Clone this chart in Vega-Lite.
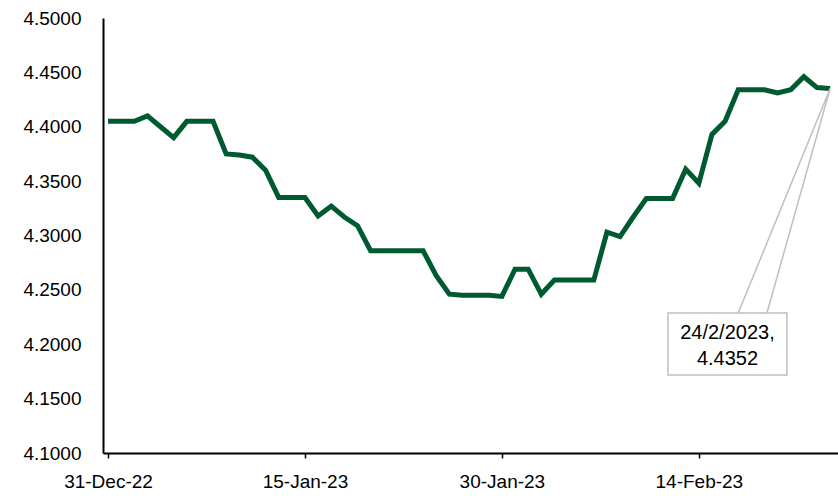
{
  "$schema": "https://vega.github.io/schema/vega-lite/v6.json",
  "width": 735,
  "height": 435,
  "autosize": {"type": "none"},
  "padding": {"left": 103, "top": 18, "right": 0, "bottom": 43},
  "background": "white",
  "config": {
    "view": {"stroke": null},
    "font": "Liberation Sans",
    "axis": {"grid": false, "domainColor": "black", "domainWidth": 2, "labelColor": "black", "labelFontSize": 19, "labelFont": "Liberation Sans", "title": null}
  },
  "datasets": {
    "series": [
      {"date": "2022/12/31", "rate": 4.405},
      {"date": "2023/01/01", "rate": 4.405},
      {"date": "2023/01/02", "rate": 4.405},
      {"date": "2023/01/03", "rate": 4.410},
      {"date": "2023/01/04", "rate": 4.400},
      {"date": "2023/01/05", "rate": 4.390},
      {"date": "2023/01/06", "rate": 4.405},
      {"date": "2023/01/07", "rate": 4.405},
      {"date": "2023/01/08", "rate": 4.405},
      {"date": "2023/01/09", "rate": 4.375},
      {"date": "2023/01/10", "rate": 4.374},
      {"date": "2023/01/11", "rate": 4.372},
      {"date": "2023/01/12", "rate": 4.360},
      {"date": "2023/01/13", "rate": 4.335},
      {"date": "2023/01/14", "rate": 4.335},
      {"date": "2023/01/15", "rate": 4.335},
      {"date": "2023/01/16", "rate": 4.318},
      {"date": "2023/01/17", "rate": 4.327},
      {"date": "2023/01/18", "rate": 4.317},
      {"date": "2023/01/19", "rate": 4.309},
      {"date": "2023/01/20", "rate": 4.286},
      {"date": "2023/01/21", "rate": 4.286},
      {"date": "2023/01/22", "rate": 4.286},
      {"date": "2023/01/23", "rate": 4.286},
      {"date": "2023/01/24", "rate": 4.286},
      {"date": "2023/01/25", "rate": 4.263},
      {"date": "2023/01/26", "rate": 4.246},
      {"date": "2023/01/27", "rate": 4.245},
      {"date": "2023/01/28", "rate": 4.245},
      {"date": "2023/01/29", "rate": 4.245},
      {"date": "2023/01/30", "rate": 4.244},
      {"date": "2023/01/31", "rate": 4.269},
      {"date": "2023/02/01", "rate": 4.269},
      {"date": "2023/02/02", "rate": 4.246},
      {"date": "2023/02/03", "rate": 4.259},
      {"date": "2023/02/04", "rate": 4.259},
      {"date": "2023/02/05", "rate": 4.259},
      {"date": "2023/02/06", "rate": 4.259},
      {"date": "2023/02/07", "rate": 4.303},
      {"date": "2023/02/08", "rate": 4.299},
      {"date": "2023/02/09", "rate": 4.317},
      {"date": "2023/02/10", "rate": 4.334},
      {"date": "2023/02/11", "rate": 4.334},
      {"date": "2023/02/12", "rate": 4.334},
      {"date": "2023/02/13", "rate": 4.361},
      {"date": "2023/02/14", "rate": 4.348},
      {"date": "2023/02/15", "rate": 4.393},
      {"date": "2023/02/16", "rate": 4.405},
      {"date": "2023/02/17", "rate": 4.434},
      {"date": "2023/02/18", "rate": 4.434},
      {"date": "2023/02/19", "rate": 4.434},
      {"date": "2023/02/20", "rate": 4.431},
      {"date": "2023/02/21", "rate": 4.434},
      {"date": "2023/02/22", "rate": 4.446},
      {"date": "2023/02/23", "rate": 4.436},
      {"date": "2023/02/24", "rate": 4.4352}
    ],
    "leaders": [
      {"from": "2023/02/24", "fromRate": 4.4352, "to": "2023/02/17 00:00", "toRate": 4.2287},
      {"from": "2023/02/24", "fromRate": 4.4352, "to": "2023/02/19 04:30", "toRate": 4.2287}
    ],
    "box": [
      {"start": "2023/02/11 15:36", "end": "2023/02/20 17:00", "top": 4.2287, "bottom": 4.1717}
    ],
    "label": [
      {"date": "2023/02/16 04:20", "rate": 4.2103, "text": "24/2/2023,\n4.4352"}
    ]
  },
  "layer": [
    {
      "data": {"name": "series"},
      "mark": {"type": "line", "color": "#005A30", "strokeWidth": 5, "strokeJoin": "miter", "strokeCap": "butt"},
      "encoding": {
        "x": {
          "field": "date", "type": "temporal",
          "scale": {"domain": [{"year": 2022, "month": 12, "date": 30, "hours": 14, "minutes": 50}, {"year": 2023, "month": 2, "date": 24, "hours": 14, "minutes": 24}]},
          "axis": {
            "values": [{"year": 2022, "month": 12, "date": 31}, {"year": 2023, "month": 1, "date": 15}, {"year": 2023, "month": 1, "date": 30}, {"year": 2023, "month": 2, "date": 14}],
            "format": "%-d-%b-%y", "tickColor": "black", "tickSize": 5, "tickWidth": 1.5, "labelPadding": 14, "labelFlush": false
          }
        },
        "y": {
          "field": "rate", "type": "quantitative",
          "scale": {"domain": [4.1, 4.5], "zero": false, "nice": false},
          "axis": {"values": [4.1, 4.15, 4.2, 4.25, 4.3, 4.35, 4.4, 4.45, 4.5], "format": ".4f", "ticks": false, "labelPadding": 22}
        }
      }
    },
    {
      "data": {"name": "leaders"},
      "mark": {"type": "rule", "color": "#BFBFBF", "strokeWidth": 1.5},
      "encoding": {
        "x": {"field": "from", "type": "temporal"},
        "y": {"field": "fromRate", "type": "quantitative"},
        "x2": {"field": "to"},
        "y2": {"field": "toRate"}
      }
    },
    {
      "data": {"name": "box"},
      "mark": {"type": "rect", "fill": "white", "stroke": "#BFBFBF", "strokeWidth": 1.5},
      "encoding": {
        "x": {"field": "start", "type": "temporal"},
        "x2": {"field": "end"},
        "y": {"field": "top", "type": "quantitative"},
        "y2": {"field": "bottom"}
      }
    },
    {
      "data": {"name": "label"},
      "mark": {"type": "text", "fontSize": 20, "font": "Liberation Sans", "color": "black", "lineBreak": "\n", "lineHeight": 26, "align": "center", "baseline": "middle"},
      "encoding": {
        "x": {"field": "date", "type": "temporal"},
        "y": {"field": "rate", "type": "quantitative"},
        "text": {"field": "text"}
      }
    }
  ]
}
